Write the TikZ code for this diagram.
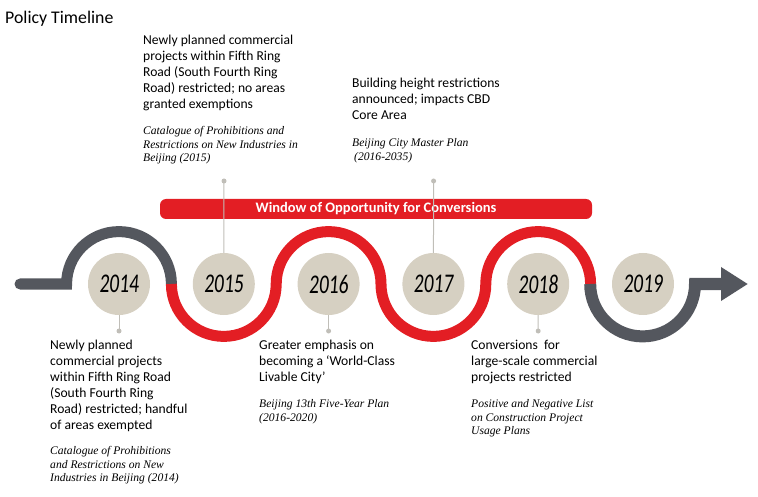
\documentclass[tikz,border=0pt]{standalone}
\usepackage{fontspec}
\setmainfont{Liberation Serif}
\setsansfont{Carlito}
\newfontfamily\yearfont[FakeStretch=0.72, FakeSlant=0.08]{Carlito}
\usetikzlibrary{arrows.meta, positioning}
\definecolor{polred}{RGB}{227,30,36}
\definecolor{polgray}{RGB}{84,87,94}
\definecolor{polbeige}{RGB}{214,208,194}
\definecolor{polstem}{RGB}{192,190,184}

\begin{document}
\begin{tikzpicture}[x=1pt, y=-1pt,
    year/.style={circle, fill=polbeige, minimum size=62pt, inner sep=0pt, font=\yearfont\fontsize{27}{27}\selectfont},
    wave/.style={line width=11pt},
    stem/.style={polstem, line width=1pt},
    dot/.style={circle, fill=polstem, inner sep=0pt, minimum size=5pt},
    bar/.style={fill=polred, rounded corners=6pt, minimum width=432pt, minimum height=20pt, inner sep=0pt, text=white, font=\sffamily\bfseries\fontsize{14.5}{14.5}\selectfont},
    note/.style={anchor=north west, align=left, inner sep=0pt, font=\sffamily\fontsize{13.6}{16}\selectfont},
    cite/.style={anchor=north west, align=left, inner sep=0pt, font=\itshape\fontsize{11.6}{13.8}\selectfont}
  ]
    \useasboundingbox (0,0) rectangle (758,497);
    \node[anchor=west, inner sep=0pt, font=\sffamily\fontsize{17.8}{17.8}\selectfont] (title) at (5,19) {Policy Timeline};

    % year circles
    \foreach \yr [count=\i from 0] in {2014,2015,2016,2017,2018,2019}
      \coordinate (c\yr) at ({119+104.8*\i},284);

    % stems and dots
    \coordinate (d2015) at (224,181);
    \coordinate (d2017) at (433.6,181);
    \coordinate (d2014) at (119,331);
    \coordinate (d2016) at (328.6,331);
    \coordinate (d2018) at (538.2,331);

    \node[bar] (window) at (376,209) {Window of Opportunity for Conversions};

    \foreach \yr in {2014,2015,2016,2017,2018}
      \draw[stem] (c\yr) -- (d\yr);
    \foreach \yr in {2014,2015,2016,2017,2018}
      \node[dot] at (d\yr) {};

    % wave
    \draw[wave, polgray, line cap=round] (20,284) -- (66.6,284)
      arc[start angle=180, end angle=360, radius=52.4];
    \draw[wave, polred] (171.4,284)
      arc[start angle=180, end angle=0, radius=52.4]
      arc[start angle=180, end angle=360, radius=52.4]
      arc[start angle=180, end angle=0, radius=52.4]
      arc[start angle=180, end angle=360, radius=52.4];
    \draw[wave, polgray, line width=12pt, -{Triangle[length=27pt, width=32pt]}] (590.2,284)
      arc[start angle=180, end angle=0, radius=52.4] -- (748,284);

    \foreach \yr in {2014,2015,2016,2017,2018,2019}
      \node[year] (y\yr) at (c\yr) {\yr};

    % notes above
    \node[note] (n2015) at (143,35) {Newly planned commercial\\projects within Fifth Ring\\Road (South Fourth Ring\\Road) restricted; no areas\\granted exemptions};
    \node[cite] (s2015) at (143,126) {Catalogue of Prohibitions and\\Restrictions on New Industries in\\Beijing (2015)};
    \node[note] (n2017) at (352,78) {Building height restrictions\\announced; impacts CBD\\Core Area};
    \node[cite] (s2017) at (352,138) {Beijing City Master Plan\\\hspace{2pt}(2016-2035)};

    % notes below
    \node[note] (n2014) at (50,340) {Newly planned\\commercial projects\\within Fifth Ring Road\\(South Fourth Ring\\Road) restricted; handful\\of areas exempted};
    \node[cite] (s2014) at (50,446) {Catalogue of Prohibitions\\and Restrictions on New\\Industries in Beijing (2014)};
    \node[note] (n2016) at (259,340) {Greater emphasis on\\becoming a `World-Class\\Livable City'};
    \node[cite] (s2016) at (259,399) {Beijing 13th Five-Year Plan\\(2016-2020)};
    \node[note] (n2018) at (471,340) {Conversions~~for\\large-scale commercial\\projects restricted};
    \node[cite] (s2018) at (471,399) {Positive and Negative List\\on Construction Project\\Usage Plans};
  \end{tikzpicture}
\end{document}
